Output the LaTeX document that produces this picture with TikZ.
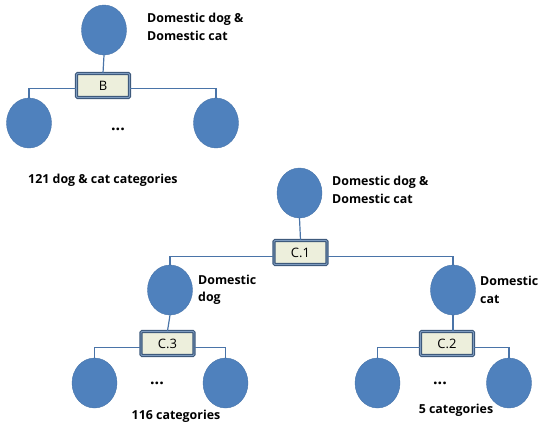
\documentclass[tikz,border=0pt]{standalone}
\usepackage{fontspec}
\setmainfont{Open Sans}
\usetikzlibrary{shapes.geometric}
\definecolor{cfill}{HTML}{4F81BD}
\definecolor{cline}{HTML}{4A74A8}
\definecolor{bfill}{HTML}{EDEFDC}
\definecolor{bdraw}{HTML}{3E5A7C}
\definecolor{binner}{HTML}{7F9CC0}
\tikzset{
  catnode/.style={ellipse, fill=cfill, draw=cfill!90!black, line width=0.4pt, minimum width=45pt, minimum height=50pt, inner sep=0pt},
  splitbox/.style={draw=bdraw, double=binner, double distance=0.9pt, line width=1.1pt, fill=bfill, rounded corners=1pt, minimum width=53pt, minimum height=24pt, inner sep=0pt, font=\fontsize{13}{15}\selectfont},
  link/.style={draw=cline, line width=1.2pt},
  lab/.style={font=\bfseries\fontsize{12.4}{17.5}\selectfont, align=left, anchor=west, inner sep=0pt},
  dots/.style={font=\bfseries\fontsize{16}{16}\selectfont, inner sep=0pt}
}
\begin{document}
\begin{tikzpicture}[x=1pt,y=-1pt]
\useasboundingbox (0,0) rectangle (538,426);
% top tree
\node[catnode] (r1) at (104,30) {};
\node[catnode] (l1) at (29,123) {};
\node[catnode] (l2) at (216,123) {};
\node[splitbox] (b) at (103,85.5) {B};
\draw[link] (r1.south) -- (b.north);
\draw[link] ([yshift=-3pt]b.west) -| (l1.north);
\draw[link] ([yshift=-3pt]b.east) -| (l2.north);
\node[lab] (t1) at (147,27) {Domestic dog \&\\Domestic cat};
\node[dots] (d1) at (118,129) {...};
\node[lab] (c1) at (28,180) {121 dog \& cat categories};
% second tree
\node[catnode] (r2) at (299.5,193) {};
\node[catnode] (dog) at (170,290) {};
\node[catnode] (cat) at (453,290) {};
\node[splitbox] (bc1) at (300.5,252.5) {C.1};
\draw[link] (r2.south) -- (bc1.north);
\draw[link] ([yshift=-4pt]bc1.west) -| (dog.north);
\draw[link] ([yshift=-4pt]bc1.east) -| (cat.north);
\node[lab] (t2) at (332,190) {Domestic dog \&\\Domestic cat};
\node[lab] (t3) at (198,290) {Domestic\\dog};
\node[lab] (t4) at (480,290) {Domestic\\cat};
% dog subtree
\node[catnode] (dl) at (94.5,383) {};
\node[catnode] (dr) at (225.5,383) {};
\node[splitbox] (bc3) at (167.5,343.5) {C.3};
\draw[link] (dog.south) -- (bc3.north);
\draw[link] ([yshift=-4pt]bc3.west) -| (dl.north);
\draw[link] ([yshift=-4pt]bc3.east) -| (dr.north);
\node[dots] (d2) at (157,383) {...};
\node[lab, anchor=center] (c2) at (176,416) {116 categories};
% cat subtree
\node[catnode] (cl) at (377.5,383) {};
\node[catnode] (cr) at (509,383) {};
\node[splitbox] (bc2) at (447,343.5) {C.2};
\draw[link] (cat.south) -- (cat.south |- bc2.north);
\draw[link] ([yshift=-4pt]bc2.west) -| (cl.north);
\draw[link] ([yshift=-4pt]bc2.east) -| (cr.north);
\node[dots] (d3) at (440,383) {...};
\node[lab, anchor=center] (c3) at (456,410) {5 categories};
\end{tikzpicture}
\end{document}
